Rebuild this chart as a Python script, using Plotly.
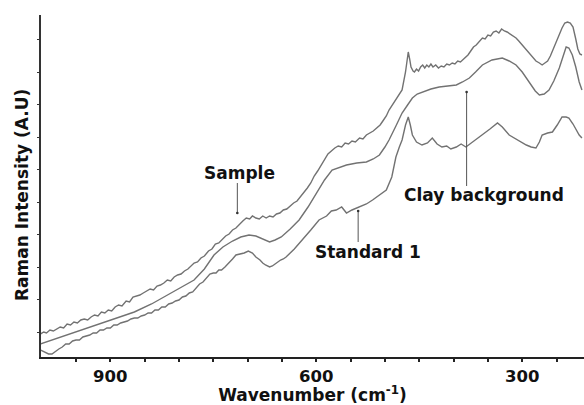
import plotly.graph_objects as go

# ---- data (wavenumber in cm-1, intensity in arbitrary units) ----
sample_wn = [1002, 997, 993, 988, 983, 978, 973, 968, 963, 958, 953, 948, 943, 938, 933, 928, 923, 918,
             913, 908, 903, 898, 893, 888, 883, 877, 872, 867, 862, 857, 852, 847, 842, 837, 832, 827,
             822, 817, 812, 807, 802, 797, 792, 787, 782, 778, 773, 768, 763, 757, 752, 747, 742, 737,
             732, 727, 722, 717, 712, 707, 702, 697, 693, 688, 683, 678, 673, 668, 663, 658, 653, 648,
             643, 638, 633, 628, 623, 618, 613, 608, 603, 598, 593, 588, 583, 578, 573, 568, 563, 558,
             553, 548, 543, 537, 532, 527, 522, 517, 512, 507, 503, 498, 494, 489, 484, 479, 475, 470,
             468, 466, 464, 462, 459, 457, 454, 451, 448, 445, 442, 439, 436, 433, 430, 426, 422, 418,
             414, 410, 406, 402, 398, 394, 390, 387, 383, 379, 375, 371, 367, 363, 358, 354, 350, 346,
             342, 338, 334, 330, 326, 322, 318, 314, 309, 305, 300, 295, 290, 285, 280, 275, 271, 267,
             263, 259, 255, 250, 246, 242, 238, 234, 230, 226, 222, 219, 216, 213]
sample_int = [23, 25, 24, 27, 26, 28, 30, 29, 33, 32, 35, 34, 37, 38, 37, 40, 42, 41,
              45, 44, 47, 46, 50, 52, 51, 56, 55, 60, 61, 62, 64, 66, 68, 67, 71, 72,
              74, 77, 76, 80, 82, 83, 86, 88, 91, 94, 95, 99, 101, 106, 108, 113, 114, 118,
              121, 123, 127, 129, 133, 136, 139, 138, 141, 139, 138, 141, 139, 141, 140, 143, 144, 147,
              148, 151, 154, 156, 160, 164, 169, 174, 181, 186, 192, 197, 203, 206, 209, 211, 210, 214,
              213, 216, 215, 219, 218, 222, 224, 226, 229, 232, 236, 241, 247, 252, 257, 262, 267, 285,
              298, 305, 298, 290, 286, 285, 288, 286, 290, 292, 289, 292, 290, 293, 290, 292, 289, 291,
              290, 293, 292, 294, 293, 296, 295, 297, 300, 302, 306, 310, 312, 315, 319, 318, 322, 321,
              325, 326, 324, 328, 326, 325, 323, 321, 319, 316, 312, 308, 304, 300, 296, 294, 292, 294,
              296, 301, 308, 317, 324, 329, 334, 335, 334, 330, 318, 308, 303, 302]

clay_wn = [1002, 985, 963, 940, 913, 890, 865, 840, 817, 798, 778, 763, 749, 736, 722, 710, 698, 688,
           678, 668, 660, 651, 638, 625, 612, 600, 588, 577, 566, 556, 541, 527, 517, 508, 500, 494,
           484, 475, 467, 460, 453, 446, 433, 421, 408, 396, 387, 377, 368, 358, 344, 329, 319, 309,
           300, 290, 281, 275, 268, 261, 254, 246, 240, 236, 232, 227, 222, 217, 213]
clay_int = [13, 17, 22, 27, 34, 39, 45, 53, 62, 69, 77, 88, 102, 110, 116, 120, 122, 121,
            118, 115, 117, 120, 128, 137, 150, 164, 177, 187, 190, 192, 194, 195, 198, 202, 210, 217,
            231, 244, 252, 259, 263, 265, 268, 270, 271, 272, 275, 279, 285, 292, 297, 299, 296, 292,
            285, 275, 266, 262, 263, 267, 276, 289, 302, 310, 309, 302, 290, 275, 267]

standard_wn = [1002, 996, 990, 985, 980, 975, 970, 965, 960, 955, 950, 945, 940, 935, 930, 925, 920, 915,
               910, 905, 900, 895, 890, 885, 880, 875, 870, 865, 860, 855, 850, 845, 840, 835, 830, 825,
               820, 815, 810, 805, 800, 795, 790, 785, 780, 775, 770, 765, 759, 755, 750, 746, 742, 738,
               733, 727, 722, 717, 711, 705, 699, 693, 688, 682, 678, 674, 668, 664, 660, 656, 652, 648,
               644, 632, 620, 608, 596, 585, 578, 571, 563, 556, 548, 537, 527, 518, 508, 498, 490, 484,
               479, 475, 470, 466, 463, 460, 454, 446, 438, 431, 424, 417, 410, 404, 396, 389, 382, 372,
               365, 358, 347, 336, 329, 319, 307, 294, 287, 280, 275, 271, 263, 256, 249, 242, 236, 232,
               226, 220, 217, 213]
standard_int = [7, 5, 3, 3, 6, 8, 10, 13, 13, 16, 17, 17, 20, 21, 22, 24, 24, 27,
                27, 29, 29, 32, 32, 34, 35, 36, 38, 39, 39, 41, 42, 44, 44, 47, 47, 50,
                50, 53, 54, 56, 57, 60, 61, 64, 65, 69, 73, 75, 80, 83, 84, 84, 87, 87,
                90, 95, 98, 102, 103, 104, 106, 104, 100, 97, 94, 92, 90, 91, 93, 95, 97, 98,
                100, 108, 117, 127, 137, 141, 146, 147, 150, 144, 147, 150, 153, 157, 162, 167, 180, 200,
                210, 217, 232, 240, 232, 222, 215, 212, 214, 219, 213, 210, 211, 208, 210, 213, 210, 215,
                219, 222, 228, 234, 230, 222, 217, 212, 210, 209, 215, 222, 224, 225, 232, 240, 240, 239,
                233, 226, 222, 219]

x_major_ticks = [900, 600, 300]
x_minor_ticks = [950, 850, 800, 750, 700, 650, 550, 500, 450, 400, 350, 250]

FONT = "DejaVu Sans"
LINE = "#727272"
TXT = "#111111"

fig = go.Figure()
for wn, inten in [(sample_wn, sample_int), (clay_wn, clay_int), (standard_wn, standard_int)]:
    fig.add_trace(go.Scatter(x=wn, y=inten, mode="lines",
                             line=dict(color=LINE, width=1.4), showlegend=False, hoverinfo="skip"))

fig.update_layout(
    width=584, height=405,
    margin=dict(l=41, r=0, t=15, b=48),
    paper_bgcolor="white", plot_bgcolor="white",
    font=dict(family=FONT, size=17, color=TXT, weight="bold"),
    xaxis=dict(range=[1001, 210], showgrid=False, zeroline=False,
               showline=True, linecolor="#222222", linewidth=2,
               ticks="outside", ticklen=3, tickwidth=1.5, tickcolor="#222222",
               tickvals=x_major_ticks, ticktext=[str(v) for v in x_major_ticks],
               minor=dict(tickvals=x_minor_ticks, ticks="outside", ticklen=3, tickwidth=1.5,
                          tickcolor="#222222", showgrid=False),
               tickfont=dict(family=FONT, size=16.5, color=TXT, weight="bold"),
               title=dict(text="Wavenumber (cm<sup>-1</sup>)", standoff=8,
                          font=dict(family=FONT, size=17, color=TXT, weight="bold"))),
    yaxis=dict(range=[0, 342], showgrid=False, zeroline=False,
               showline=True, linecolor="#333333", linewidth=2,
               ticks="outside", ticklen=2, tickwidth=1, tickcolor="#333333",
               tick0=25, dtick=32.5, showticklabels=False,
               title=dict(text="Raman Intensity (A.U)&nbsp;&nbsp;&nbsp;", standoff=4,
                          font=dict(family=FONT, size=17, color=TXT, weight="bold"))),
)

# curve labels
labels = [("Sample", 712, 184), ("Clay background", 356, 162), ("Standard 1", 524, 105)]
for txt, xv, yv in labels:
    fig.add_annotation(text=txt, x=xv, y=yv, xref="x", yref="y", showarrow=False,
                       xanchor="center", yanchor="middle",
                       font=dict(family=FONT, size=17, color=TXT, weight="bold"))

# pointer lines (tail -> tip) with a small dot at the tip
pointers = [(715, 174, 144), (381, 171, 265), (539, 115, 146)]
for xv, y_tail, y_tip in pointers:
    fig.add_shape(type="line", x0=xv, x1=xv, y0=y_tail, y1=y_tip, xref="x", yref="y",
                  line=dict(color="#555555", width=1))
    fig.add_shape(type="circle", xref="x", yref="y", xsizemode="pixel", ysizemode="pixel",
                  xanchor=xv, yanchor=y_tip, x0=-1.3, x1=1.3, y0=-1.3, y1=1.3,
                  line=dict(width=0), fillcolor="#333333")

fig.write_html("out.html")
